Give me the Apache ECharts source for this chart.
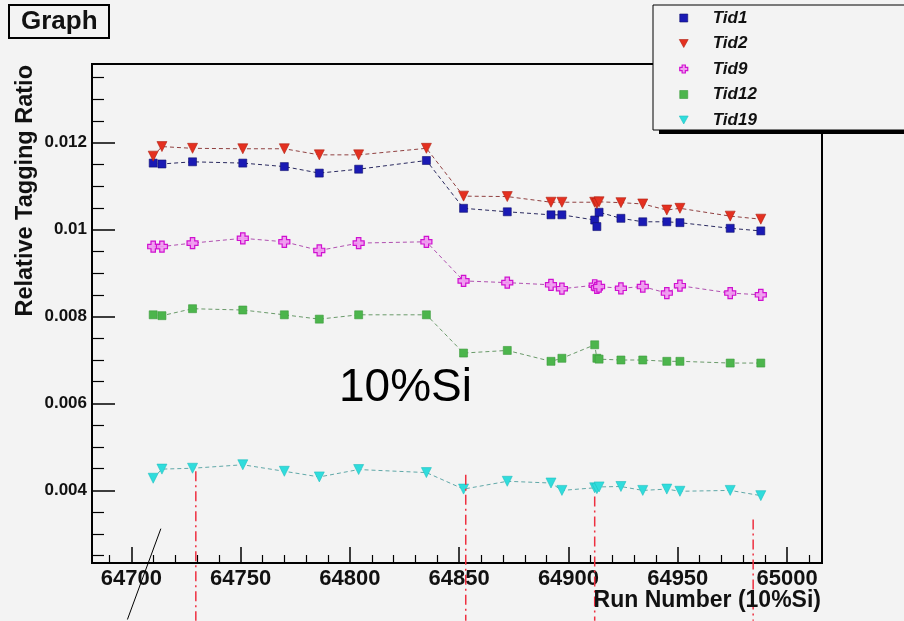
<!DOCTYPE html>
<html>
<head>
<meta charset="utf-8">
<script src="https://cdn.jsdelivr.net/npm/echarts@6/dist/echarts.min.js"></script>
<style>
html,body{margin:0;padding:0;background:#f3f3f3;}
#c{width:904px;height:621px;}
</style>
</head>
<body>
<div id="c"></div>
<script>
// Run numbers (x) shared by all series
const runs = [64710, 64714, 64728, 64751, 64770, 64786, 64804, 64835,
              64852, 64872, 64892, 64897, 64912, 64913, 64914, 64924,
              64934, 64945, 64951, 64974, 64988];
const tid1 = [0.01153, 0.01151, 0.01156, 0.01153, 0.01145, 0.01130, 0.01139, 0.01159,
              0.01049, 0.01041, 0.01034, 0.01034, 0.01022, 0.01007, 0.01040, 0.01026,
              0.01018, 0.01018, 0.01016, 0.01003, 0.00997];
const tid2 = [0.01169, 0.01191, 0.01187, 0.01186, 0.01186, 0.01172, 0.01172, 0.01187,
              0.01077, 0.01076, 0.01063, 0.01063, 0.01063, 0.01060, 0.01064, 0.01062,
              0.01059, 0.01045, 0.01049, 0.01031, 0.01024];
const tid9 = [0.00961, 0.00961, 0.00969, 0.00980, 0.00972, 0.00952, 0.00969, 0.00972,
              0.00882, 0.00878, 0.00873, 0.00864, 0.00872, 0.00866, 0.00869, 0.00865,
              0.00869, 0.00854, 0.00871, 0.00854, 0.00850];
const tid12 = [0.00804, 0.00802, 0.00818, 0.00815, 0.00804, 0.00794, 0.00804, 0.00804,
               0.00716, 0.00722, 0.00697, 0.00704, 0.00735, 0.00704, 0.00702, 0.00700,
               0.00700, 0.00697, 0.00697, 0.00693, 0.00693];
const tid19 = [0.00428, 0.00449, 0.00451, 0.00459, 0.00444, 0.00431, 0.00448, 0.00441,
               0.00403, 0.00421, 0.00417, 0.00400, 0.00406, 0.00404, 0.00408, 0.00409,
               0.00400, 0.00403, 0.00398, 0.00400, 0.00388];
const seriesNames = ['Tid1', 'Tid2', 'Tid9', 'Tid12', 'Tid19'];

// Red dash-dot annotation lines: run positions and top y values
const markRuns = [64729.5, 64853, 64912, 64984.5];
const markTops = [0.00444, 0.00436, 0.00386, 0.00333];
const markBottom = 0.0010;
// Black annotation stroke (start and end in data coords)
const strokeFrom = [64698.2, 0.00103];
const strokeTo = [64713.5, 0.00312];

const xMin = 64682, xMax = 65016;
const yMin = 0.00233, yMax = 0.01381;

const FONT = '"Liberation Sans", Arial, sans-serif';
const square = 'path://M0,0 L10,0 L10,10 L0,10 Z';
const downTri = 'path://M0,0 L10,0 L5,9 Z';
const openCross = 'path://M3,0 L7,0 L7,3 L10,3 L10,7 L7,7 L7,10 L3,10 L3,7 L0,7 L0,3 L3,3 Z';

const styles = {
  Tid1:  {symbol: square, size: 8, color: '#1a1ab4', border: '#101070', line: '#2a2a60'},
  Tid2:  {symbol: downTri, size: 10, color: '#e43020', border: '#b02010', line: '#904040'},
  Tid9:  {symbol: openCross, size: 11, color: 'rgba(240,150,240,0.9)', border: '#d010d0', line: '#b050b0'},
  Tid12: {symbol: square, size: 8, color: '#4cb54c', border: '#3a9a3a', line: '#6a9a6a'},
  Tid19: {symbol: downTri, size: 10, color: '#30dcdc', border: '#20c0c0', line: '#60a8a8'}
};
const values = {Tid1: tid1, Tid2: tid2, Tid9: tid9, Tid12: tid12, Tid19: tid19};

const chart = echarts.init(document.getElementById('c'), null, {renderer: 'canvas'});

const series = seriesNames.map(name => {
  const s = styles[name];
  return {
    name: name,
    type: 'line',
    data: runs.map((r, i) => [r, values[name][i]]),
    symbol: s.symbol,
    symbolSize: s.size,
    showAllSymbol: true,
    clip: false,
    itemStyle: {color: s.color, borderColor: s.border, borderWidth: name === 'Tid9' ? 1.2 : 0.6},
    lineStyle: {color: s.line, width: 1, type: [4, 3]},
    emphasis: {disabled: true},
    animation: false
  };
});

chart.setOption({
  backgroundColor: '#f3f3f3',
  animation: false,
  title: {
    text: 'Graph',
    left: 9, top: 5,
    padding: [3, 12, 3, 12],
    borderColor: '#000', borderWidth: 2,
    backgroundColor: '#f3f3f3',
    textStyle: {fontFamily: FONT, fontWeight: 'bold', fontSize: 26, color: '#111', lineHeight: 27}
  },
  legend: {
    left: 653, top: 5, z: 10,
    orient: 'vertical',
    padding: [4, 220, 1, 26],
    itemWidth: 48, itemHeight: 8, itemGap: 7.5,
    selectedMode: false,
    backgroundColor: '#f3f3f3',
    borderColor: '#000', borderWidth: 1,
    textStyle: {fontFamily: FONT, fontWeight: 'bold', fontStyle: 'italic', fontSize: 17, color: '#111', lineHeight: 18},
    data: seriesNames.map(n => ({
      name: n,
      icon: styles[n].symbol,
      itemStyle: {color: styles[n].color, borderColor: styles[n].border, borderWidth: n === 'Tid9' ? 1.2 : 0.6}
    }))
  },
  grid: {
    left: 92, right: 82, top: 64, bottom: 58,
    show: true, borderColor: '#000', borderWidth: 2, backgroundColor: 'transparent'
  },
  xAxis: {
    type: 'value', min: xMin, max: xMax, splitNumber: 7,
    axisLine: {lineStyle: {color: '#000', width: 2}},
    axisTick: {inside: true, length: 16, lineStyle: {color: '#000', width: 1.5}},
    minorTick: {show: true, splitNumber: 5, length: 8, lineStyle: {color: '#000', width: 1.2}},
    splitLine: {show: false},
    axisLabel: {showMinLabel: false, showMaxLabel: false, margin: 5,
      formatter: v => String(Math.round(v)),
      fontFamily: FONT, fontWeight: 'bold', fontSize: 22, color: '#111'}
  },
  yAxis: {
    type: 'value', min: yMin, max: yMax, splitNumber: 6,
    axisLine: {show: true, lineStyle: {color: '#000', width: 2}},
    axisTick: {show: true, inside: true, length: 23, lineStyle: {color: '#000', width: 1.5}},
    minorTick: {show: true, splitNumber: 4, length: 12, lineStyle: {color: '#000', width: 1.2}},
    splitLine: {show: false},
    axisLabel: {showMinLabel: false, showMaxLabel: false, margin: 5,
      fontFamily: FONT, fontWeight: 'bold', fontSize: 17, color: '#111'}
  },
  series: series
});

// Annotations positioned through the chart's own scales
const graphics = [];
// hard shadow behind the legend box
graphics.push({
  type: 'rect', z: 1, silent: true,
  shape: {x: 659, y: 10, width: 300, height: 124},
  style: {fill: '#000'}
});
markRuns.forEach((r, i) => {
  const p1 = chart.convertToPixel({gridIndex: 0}, [r, markTops[i]]);
  const p2 = chart.convertToPixel({gridIndex: 0}, [r, markBottom]);
  graphics.push({
    type: 'line', z: 50, silent: true,
    shape: {x1: p1[0], y1: p1[1], x2: p2[0], y2: p2[1]},
    style: {stroke: '#ee3040', lineWidth: 1.5, lineDash: [10, 4, 2, 4]}
  });
});
const s1 = chart.convertToPixel({gridIndex: 0}, strokeFrom);
const s2 = chart.convertToPixel({gridIndex: 0}, strokeTo);
graphics.push({
  type: 'line', z: 50, silent: true,
  shape: {x1: s1[0], y1: s1[1], x2: s2[0], y2: s2[1]},
  style: {stroke: '#000', lineWidth: 1}
});
graphics.push({
  type: 'text', z: 50, silent: true,
  style: {x: 339, y: 388, text: '10%Si', fontFamily: FONT, fontSize: 46, fill: '#000',
          align: 'left', verticalAlign: 'middle'}
});
graphics.push({
  type: 'text', z: 50, silent: true,
  style: {x: 821, y: 601, text: 'Run Number (10%Si)', fontFamily: FONT, fontWeight: 'bold',
          fontSize: 23, fill: '#111', align: 'right', verticalAlign: 'middle'}
});
graphics.push({
  type: 'text', z: 50, silent: true,
  x: 26, y: 65, rotation: Math.PI / 2,
  style: {x: 0, y: 0, text: 'Relative Tagging Ratio', fontFamily: FONT, fontWeight: 'bold',
          fontSize: 23.5, fill: '#111', align: 'right', verticalAlign: 'middle'}
});
chart.setOption({graphic: graphics});
</script>
</body>
</html>
